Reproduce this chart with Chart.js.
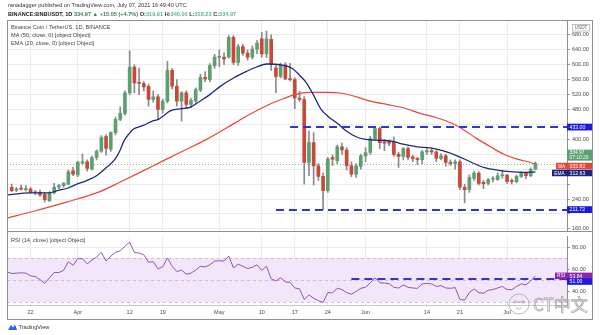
<!DOCTYPE html>
<html>
<head>
<meta charset="utf-8">
<script src="https://cdn.jsdelivr.net/npm/chart.js@4.4.1/dist/chart.umd.min.js"></script>
<style>
html,body{margin:0;padding:0;background:#fff;}
body{width:600px;height:335px;position:relative;overflow:hidden;}
canvas{position:absolute;left:0;}
#priceCanvas{top:0;width:600px;height:236px;}
#rsiCanvas{top:231px;width:600px;height:104px;}
#frame{position:absolute;left:7px;top:20px;width:586px;height:300px;border:1px solid #8f8f8f;box-sizing:border-box;pointer-events:none;}
#divider{position:absolute;left:7px;top:231px;width:586px;height:0;border-top:1px solid #8f8f8f;pointer-events:none;}
</style>
</head>
<body>
<canvas id="priceCanvas" width="600" height="236"></canvas>
<canvas id="rsiCanvas" width="600" height="104"></canvas>
<div id="frame"></div>
<div id="divider"></div>
<script>
// ---------- DATA ----------
const startDate = '2021-03-17';               // day 0
const candleDays = Array.from({length: 112}, (_, i) => i + 1);   // Mar 18 .. Jul 7
const opens = [271.6,263.6,267,265.3,267,258,258.2,253,236,256.5,
  271.6,276,280,316,304.4,336.4,340,320.4,351.5,368.4,
  407.4,373.7,418,453.6,469.6,524.6,594,553,549.5,542.4,
  506.9,514,480.2,502.4,585,542.4,502.4,524.6,494,502.4,
  531.7,566.4,560,597.5,619.6,620.5,620.5,673.8,606.3,649,
  631.2,620.5,641.9,669.4,629.4,668.5,591,569,600,562,
  560,511,507,338,391.4,329,301,262.7,351.5,342.6,
  379.9,371,329.3,307,327.5,355.9,364.8,402,428.7,391.4,
  393,393,360,354,375.5,353.3,348.8,345.3,366.6,370,
  366.6,348.8,355.9,338.2,335.5,339.9,271.6,266,295.6,309.7,
  284.9,282.2,293.5,292,302.6,304.4,288.5,286.6,300.9,310,
  302.6,319.91];
const highs = [280.4,271.6,277.8,276,271.6,263,264,258,260,282,
  280,285,318,325,341,360.4,345,355,372,410,
  412,420,460,487.3,530,637.4,600,591,555,548,
  530,520,508,609,590,560,528,530,510,538,
  575,582,603,628,640,632,678,678,655,655,
  640,650,665,687,690,680,600,604.6,606,604,
  565,529,515,422.5,418,335,310,352,358,385,
  390,378,340,335,360,378,408,433,433,400,
  398,407,365,378,380,358,352,370,375,376,
  370,362,360,345,345,345,280,305,315,314,
  290,295,300,310,318,306,294,304,314,312,
  324,340];
const lows = [260,260,263.6,261.8,256.5,252,247,231.6,233,254,
  268,272,278,303,300,333.7,315,318,345,365,
  357.7,368,412,450,465,520,525,520,530,489,
  500,453.6,470,498,535,490,449,485,485,498,
  528,555,555,590,595,600,618,600,598,625,
  612,615,630,620,620,585,525,564.6,560,556,
  482,502,280,302.6,277.8,290,211.7,258,330,335,
  360,318,300,298,320,340,360,398,375,370,
  383,355,325,345,345,340,332,335,360,360,
  340,345,328,330,320,265,229.8,258,290,278,
  268,278,286,290,296,282,280,283,298,295,
  300,318.23];
const closes = [262.7,267.1,266.5,268,258.2,257,251,238.7,258.2,271.6,
  276,282.2,313.3,307,338.2,340,322.2,351.5,368.4,404.8,
  375.5,418,453.6,469.6,524.6,594,551.3,550,540.6,506.9,
  514,480.2,502.4,584.1,542.4,502.4,524.6,493.6,504,533.5,
  566.4,562,597.5,620.5,620.5,616,673.8,606.3,649,631.2,
  620.5,641.9,657.8,629.4,669.4,600,569,600,562,560,
  511.3,507,338,391.4,329,301,262.7,347,347,379.9,
  372,329.3,307,329.3,355.9,364.8,402,428.7,391.4,390,
  389.7,359.5,354,375.5,351.5,348.8,345.3,366.6,370,366.6,
  348.8,355.9,338.2,335.5,339.9,271.6,265.3,298.2,309.7,282.2,
  281.3,292,294,302.6,305.5,287.5,286.6,300.9,309.7,302.6,
  319.9,334.97];

// EMA(20) and MA(50) (day, value)
const emaDays = [0,4.8,8.85,10.8,12.8,14.8,16.8,19,21.1,22.9,23.9,24.8,25.8,26.75,28.9,30.8,32.1,33.1,34.5,36.7,38.8,40.9,43,45.2,48,50.8,52.9,55.1,58,60.5,62,63.5,65,66.5,68,70,72,74,76,78,80,82,84,87,89.7,92.5,95.4,98.2,101,103.9,106.7,109.5,112];
const emaValues = [251,256.5,256.5,263,269,280,289,302.6,325,347,369,396,414,427,437.6,449,453.6,462.5,475.8,482,485.6,502.4,520,542,564.6,582.4,594,602,600,590,572,551,518,482,462,443,422,407,400,398,397,394,387,380,377,369,356,340,325,317.7,313.3,311.5,312.6];
const maDays = [0,5.5,12.6,19.7,23.9,28.2,33.8,38.1,42.3,46.6,50.8,55.1,58.6,61,64.2,67.8,71.3,74.1,77,80.5,84.05,87.6,91.1,94,96.1,99.6,102.5,105.3,108.1,111,112];
const maValues = [189,206.7,231.6,260,285,311.5,347,373.7,400,431,462.5,491,509,520,526,526,523,514,502.4,493.6,484.7,469.6,458,444.7,431.4,402,380,360,347,338,334];

// RSI(14), day 0 .. 112
const rsiDays = Array.from({length: 113}, (_, i) => i);
const rsiValues = [57.4,56,56.3,56.6,56.3,53.8,53.2,50.4,47,52,
  56.9,56.9,58.8,66.7,63.3,69.5,69.5,64.7,68.1,71,
  75.2,67.3,71.8,75.2,76.6,80.8,84.4,75.2,74.6,73,
  66.2,66.7,60.2,62,70.1,62.5,57.7,59.1,55.4,56.3,
  59.1,62.5,62,63.9,67.3,67.6,67.3,71.8,61.1,64.5,
  62.5,60.5,61.6,63.9,58.8,62.5,51.2,49.3,52.1,48.4,
  47.9,42.8,42,32.4,36.5,33.5,31.3,29.6,38.6,38.4,
  42.5,41.4,38.6,37.2,39.7,42.5,43.5,47.5,52,47.6,
  47.2,46.8,43.4,42.8,45.6,43.4,42.8,42.5,46.5,47,
  46.5,44.2,44.9,42.8,42.5,43.2,32.4,31.8,38.6,42,
  38.6,38,40.8,41.4,42.8,44.2,41.4,41.2,44.2,46.5,
  45.6,49.3,53.84];

const timeTickDays = [5,15,26,33,45,54,61,68,76,89,96,106];
const timeTickLabels = ['22','Apr','12','19','May','10','17','24','Jun','14','21','Jul'];
const priceTicks = [160,200,240,280,320,360,400,440,480,520,560,600,640,680];
const priceTicksHidden = [200,280,320,360,440];
const rsiTicks = [40,60,80];

const priceLevels = [433, 211.73];
const priceLevelFromDay = [60, 57];
const rsiLevel = 51;
const rsiLevelFromDay = 73;
const maLast = 333.82;
const emaLast = 312.63;
const countdown = '07:10:20';

// ---------- STYLE ----------
const FONT = '"Liberation Sans", Arial, sans-serif';
const UP = '#5c9f70', DOWN = '#c8493a', WICK = '#8a8a8a';
const LEVEL = '#3434c8', TAGBLUE = '#1c1ce0';
Chart.defaults.font.family = FONT;

function xAxis(showTicks) {
  return {
    type: 'linear', min: 0, max: 118.7, offset: false,
    grid: {color: '#ececec', offset: false, drawTicks: false, lineWidth: 1},
    border: {display: showTicks, color: '#c8c8c8'},
    ticks: {display: showTicks, autoSkip: false, maxRotation: 0, padding: 4, color: '#4a4a4a',
      font: {size: 5.5, family: FONT},
      callback: v => { const i = timeTickDays.indexOf(v); return i >= 0 ? timeTickLabels[i] : ''; }},
    afterBuildTicks: s => { s.ticks = timeTickDays.map(v => ({value: v})); },
    afterFit: s => { if (showTicks) s.height = 15; }
  };
}

function tag(ctx, x, yc, w, h, bg, lines, fg, size, align) {
  ctx.fillStyle = bg;
  ctx.fillRect(x, yc - h / 2, w, h);
  ctx.fillStyle = fg;
  ctx.font = size + 'px ' + FONT;
  ctx.textBaseline = 'middle';
  ctx.textAlign = align || 'left';
  const tx = align === 'center' ? x + w / 2 : x + 2.5;
  if (lines.length === 1) ctx.fillText(lines[0], tx, yc + 0.3);
  else { ctx.fillText(lines[0], tx, yc - 2.4); ctx.fillText(lines[1], tx, yc + 2.8); }
}

function dashed(ctx, x1, x2, y, color, width, dash) {
  ctx.save();
  ctx.strokeStyle = color; ctx.lineWidth = width; ctx.setLineDash(dash);
  ctx.beginPath(); ctx.moveTo(x1, y); ctx.lineTo(x2, y); ctx.stroke();
  ctx.restore();
}

const lastClose = closes[closes.length - 1];
const lastOpen = opens[opens.length - 1];

const pricePlugin = {
  id: 'pricePlugin',
  beforeDatasetsDraw(chart) {
    const {ctx, chartArea: a, scales: {y}} = chart;
    const yp = Math.round(y.getPixelForValue(lastClose)) + 0.5;
    dashed(ctx, a.left, a.right, yp, 'rgba(92,159,112,0.75)', 1, [1, 2]);
  },
  afterDatasetsDraw(chart) {
    const {ctx, chartArea: a, scales: {x, y}} = chart;
    ctx.save();
    ctx.beginPath(); ctx.rect(a.left, a.top, a.right - a.left, a.bottom - a.top); ctx.clip();
    priceLevels.forEach((v, i) => {
      dashed(ctx, x.getPixelForValue(priceLevelFromDay[i]), a.right, Math.round(y.getPixelForValue(v)), LEVEL, 2, [8, 5]);
    });
    ctx.restore();
  },
  afterDraw(chart) {
    const {ctx, chartArea: a, scales: {y}} = chart;
    ctx.save();
    // header
    ctx.textBaseline = 'middle'; ctx.textAlign = 'left';
    ctx.font = '5.6px ' + FONT; ctx.fillStyle = '#333';
    ctx.fillText('ranadagger published on TradingView.com, July 07, 2021 16:49:40 UTC', 8, 5);
    const segs = [
      ['BINANCE:BNBUSDT, 1D ', '#222', true],
      ['334.97 \u25B2 +15.05 (+4.7%) ', '#3c7d54', true],
      ['O:', '#333', true], ['319.91 ', '#5cb88a', true],
      ['H:', '#333', true], ['340.00 ', '#5cb88a', true],
      ['L:', '#333', true], ['318.23 ', '#5cb88a', true],
      ['C:', '#333', true], ['334.97', '#5cb88a', true]];
    let hx = 8;
    segs.forEach(s => {
      ctx.font = (s[2] ? 'bold ' : '') + '5.6px ' + FONT;
      ctx.fillStyle = s[1];
      ctx.fillText(s[0], hx, 14);
      hx += ctx.measureText(s[0]).width;
    });
    // legend
    ctx.font = '5.6px ' + FONT; ctx.fillStyle = '#444';
    ctx.fillText('Binance Coin / TetherUS, 1D, BINANCE', 11, 27.5);
    ctx.fillText('MA (50, close, 0) [object Object]', 11, 35.3);
    ctx.fillText('EMA (20, close, 0) [object Object]', 11, 43);
    // USDT box
    ctx.fillStyle = '#fff'; ctx.strokeStyle = '#aaa'; ctx.lineWidth = 0.7;
    ctx.fillRect(572.5, 24.5, 17, 6.5); ctx.strokeRect(572.5, 24.5, 17, 6.5);
    ctx.fillStyle = '#555'; ctx.font = '4.6px ' + FONT; ctx.textAlign = 'center';
    ctx.fillText('USDT', 581, 28);
    // tags
    const ax = a.right, tw = 25;
    priceLevels.forEach(v => tag(ctx, ax, y.getPixelForValue(v), tw, 6.8, TAGBLUE, [v.toFixed(2)], '#fff', 5.2));
    tag(ctx, ax, y.getPixelForValue(lastClose) - 8.5, 26, 11, lastClose >= lastOpen ? '#5c9f70' : DOWN,
        [lastClose.toFixed(2), countdown], '#fff', 4.9);
    const maY = y.getPixelForValue(maLast) + 2, emaY = y.getPixelForValue(emaLast) + 1;
    tag(ctx, ax, maY, tw, 6.5, '#e8463a', [maLast.toFixed(2)], '#fff', 5.2);
    tag(ctx, ax - 11, maY, 11, 6.5, '#e8463a', ['MA'], '#fff', 4.8, 'center');
    tag(ctx, ax, emaY, tw, 6.5, '#1a237e', [emaLast.toFixed(2)], '#fff', 5.2);
    tag(ctx, ax - 15, emaY, 15, 6.5, '#1a237e', ['EMA'], '#fff', 4.8, 'center');
    ctx.restore();
  }
};

const priceChart = new Chart(document.getElementById('priceCanvas'), {
  type: 'bar',
  data: {
    datasets: [
      {type: 'line', label: 'EMA 20', data: emaDays.map((d, i) => ({x: d, y: emaValues[i]})),
        borderColor: '#1b2a80', borderWidth: 1.3, pointRadius: 0, cubicInterpolationMode: 'monotone', tension: 0.4},
      {type: 'line', label: 'MA 50', data: maDays.map((d, i) => ({x: d, y: maValues[i]})),
        borderColor: '#e8463a', borderWidth: 1.2, pointRadius: 0, cubicInterpolationMode: 'monotone', tension: 0.4},
      {label: 'body', data: candleDays.map((d, i) => ({x: d, y: [opens[i], closes[i]]})),
        backgroundColor: candleDays.map((d, i) => closes[i] >= opens[i] ? UP : DOWN),
        barThickness: 3, minBarLength: 1, grouped: false, borderWidth: 0},
      {label: 'wick', data: candleDays.map((d, i) => ({x: d, y: [lows[i], highs[i]]})),
        backgroundColor: WICK, barThickness: 1, grouped: false, borderWidth: 0}
    ]
  },
  options: {
    responsive: false, animation: false, devicePixelRatio: 1,
    layout: {padding: {left: 7, right: 5, top: 20, bottom: 4}},
    plugins: {legend: {display: false}, tooltip: {enabled: false}},
    scales: {
      x: xAxis(false),
      y: {
        position: 'right', min: 155.2, max: 720,
        grid: {color: '#ececec', drawTicks: true, tickLength: 3, tickColor: '#9a9a9a'},
        border: {display: true, color: '#8f8f8f'},
        ticks: {padding: 2, color: '#4a4a4a', font: {size: 5.5, family: FONT},
          callback: v => priceTicksHidden.includes(v) ? '' : Number(v).toFixed(2)},
        afterBuildTicks: s => { s.ticks = priceTicks.map(v => ({value: v})); },
        afterFit: s => { s.width = 28; }
      }
    }
  },
  plugins: [pricePlugin]
});

const rsiPlugin = {
  id: 'rsiPlugin',
  beforeDatasetsDraw(chart) {
    const {ctx, chartArea: a, scales: {y}} = chart;
    ctx.save();
    const y70 = y.getPixelForValue(70), y30 = y.getPixelForValue(30);
    ctx.fillStyle = '#f2e6fb';
    ctx.fillRect(a.left, y70, a.right - a.left, y30 - y70);
    [70, 50, 30].forEach(v => dashed(ctx, a.left, a.right, Math.round(y.getPixelForValue(v)) + 0.5, '#c2b0d2', 0.8, [3, 3]));
    ctx.restore();
  },
  afterDatasetsDraw(chart) {
    const {ctx, chartArea: a, scales: {x, y}} = chart;
    dashed(ctx, x.getPixelForValue(rsiLevelFromDay), a.right, Math.round(y.getPixelForValue(rsiLevel)), LEVEL, 2, [8, 5]);
  },
  afterDraw(chart) {
    const {ctx, chartArea: a, scales: {y}} = chart;
    ctx.save();
    ctx.textBaseline = 'middle'; ctx.textAlign = 'left';
    ctx.font = '5.6px ' + FONT; ctx.fillStyle = '#444';
    ctx.fillText('RSI (14, close) [object Object]', 11, 9);
    const ax = a.right;
    const rsiLast = rsiValues[rsiValues.length - 1];
    const ry = y.getPixelForValue(rsiLast);
    tag(ctx, ax, ry, 25, 6.5, '#8e24aa', [rsiLast.toFixed(2)], '#fff', 5.2);
    tag(ctx, ax - 12, ry, 12, 6.5, '#8e24aa', ['RSI'], '#fff', 4.8, 'center');
    tag(ctx, ax, y.getPixelForValue(rsiLevel) + 2.6, 25, 6.5, TAGBLUE, [rsiLevel.toFixed(2)], '#fff', 5.2);
    // watermark
    ctx.globalAlpha = 0.85;
    ctx.strokeStyle = '#9a9a9a'; ctx.lineWidth = 0.8;
    ctx.beginPath(); ctx.arc(519, 73, 10, 0, Math.PI * 2); ctx.stroke();
    ctx.beginPath(); ctx.arc(515, 71, 1.2, 0, Math.PI * 2); ctx.arc(523, 71, 1.2, 0, Math.PI * 2); ctx.stroke();
    ctx.beginPath(); ctx.arc(519, 74, 4, 0.2 * Math.PI, 0.8 * Math.PI); ctx.stroke();
    ctx.font = '17px "Noto Sans CJK SC", ' + FONT;
    ctx.fillStyle = 'rgba(255,255,255,0.75)';
    ctx.textAlign = 'left';
    ctx.fillText('CT\u4E2D\u6587', 533, 74);
    ctx.strokeText('CT\u4E2D\u6587', 533, 74);
    ctx.globalAlpha = 1;
    // TradingView logo
    ctx.fillStyle = '#2962ff';
    ctx.beginPath(); ctx.moveTo(8, 99); ctx.lineTo(11, 94); ctx.lineTo(13, 96.5); ctx.lineTo(15, 93.5); ctx.lineTo(17, 99); ctx.closePath(); ctx.fill();
    ctx.fillStyle = '#333'; ctx.font = '5.6px ' + FONT;
    ctx.fillText('TradingView', 18.5, 96.5);
    ctx.restore();
  }
};

const rsiChart = new Chart(document.getElementById('rsiCanvas'), {
  type: 'line',
  data: {
    datasets: [{label: 'RSI', data: rsiDays.map((d, i) => ({x: d, y: rsiValues[i]})),
      borderColor: '#9256b0', borderWidth: 1, pointRadius: 0, tension: 0}]
  },
  options: {
    responsive: false, animation: false, devicePixelRatio: 1,
    layout: {padding: {left: 7, right: 5, top: 0, bottom: 15}},
    plugins: {legend: {display: false}, tooltip: {enabled: false}},
    scales: {
      x: xAxis(true),
      y: {
        position: 'right', min: 27.34, max: 89.8,
        grid: {color: '#ececec', drawTicks: true, tickLength: 3, tickColor: '#9a9a9a'},
        border: {display: true, color: '#8f8f8f'},
        ticks: {padding: 2, color: '#4a4a4a', font: {size: 5.5, family: FONT},
          callback: v => Number(v).toFixed(2)},
        afterBuildTicks: s => { s.ticks = rsiTicks.map(v => ({value: v})); },
        afterFit: s => { s.width = 28; }
      }
    }
  },
  plugins: [rsiPlugin]
});
</script>
</body>
</html>
